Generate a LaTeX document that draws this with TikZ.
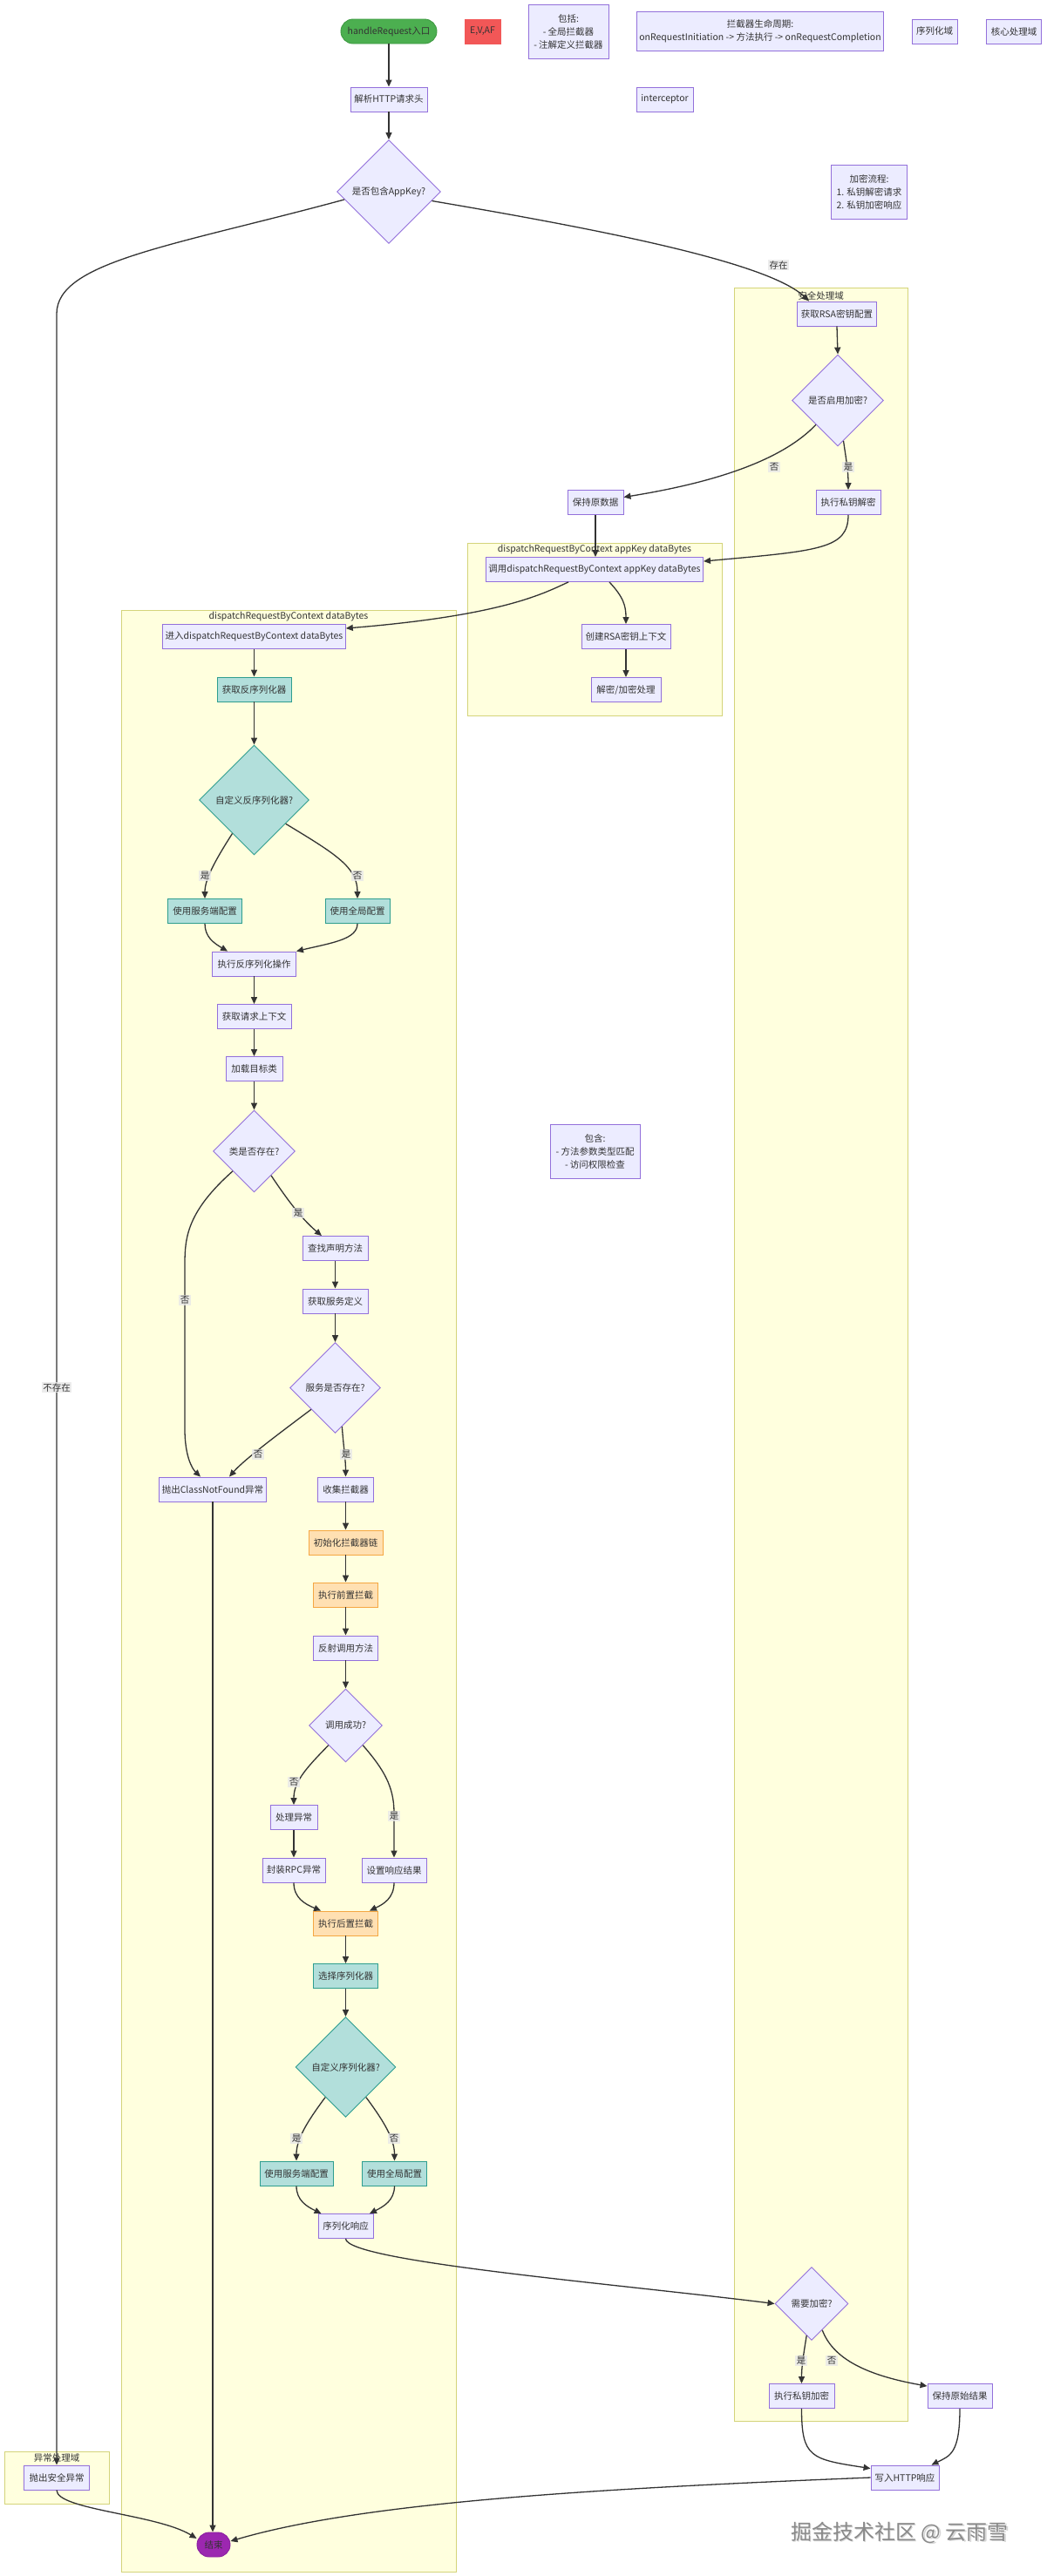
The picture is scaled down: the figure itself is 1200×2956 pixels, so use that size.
\documentclass[tikz,border=0pt]{standalone}
\usepackage{fontspec}
\setmainfont{Noto Sans CJK SC}
\usetikzlibrary{shapes.geometric,arrows.meta,calc}
\definecolor{nfill}{HTML}{ECECFF}
\definecolor{nline}{HTML}{9370DB}
\definecolor{tfill}{HTML}{B2DFDB}
\definecolor{tline}{HTML}{2E9E8F}
\definecolor{ofill}{HTML}{FFE0B2}
\definecolor{oline}{HTML}{F5A742}
\definecolor{gfill}{HTML}{4CAF50}
\definecolor{gline}{HTML}{3E9A42}
\definecolor{rfill}{HTML}{F25757}
\definecolor{pfill}{HTML}{9C27B0}
\definecolor{pline}{HTML}{8A1FA0}
\definecolor{cfill}{HTML}{FFFFDE}
\definecolor{cline}{HTML}{D4D47A}
\definecolor{txt}{HTML}{333333}
\definecolor{edgec}{HTML}{333333}
\definecolor{lblbg}{HTML}{E8E8E8}
\definecolor{wmtxt}{HTML}{8A8A8A}
\definecolor{wmsh}{HTML}{D6D6D6}
\begin{document}
\begin{tikzpicture}[x=1pt,y=-1pt,
  every node/.style={font=\fontsize{10.5}{13}\selectfont, text=txt},
  box/.style={draw=nline, fill=nfill, line width=0.9pt, rectangle, minimum height=28pt, inner xsep=3pt, inner ysep=0pt},
  tbox/.style={box, draw=tline, fill=tfill},
  obox/.style={box, draw=oline, fill=ofill},
  dia/.style={draw=nline, fill=nfill, line width=0.9pt, diamond, aspect=1, inner sep=0pt, minimum width=#1, minimum height=#1},
  tdia/.style={dia=#1, draw=tline, fill=tfill},
  note/.style={box, align=center, font=\fontsize{10.5}{15}\selectfont},
  clus/.style={draw=cline, fill=cfill, line width=0.9pt, rectangle, inner sep=0pt},
  arr/.style={draw=edgec, line width=1.3pt, -{Triangle[length=8pt,width=7pt]}},
  lbl/.style={fill=lblbg, fill opacity=0.8, text opacity=1, inner sep=1.5pt},
  wmfont/.style={font=\fontsize{24}{28}\selectfont},
]
\useasboundingbox (0,0) rectangle (1200,2956);
\fill[white] (0,0) rectangle (1200,2956);

% clusters
\node[clus, minimum width=199pt, minimum height=2448pt] (secdom) at (941.5,1554) {};
\node (secdomt) at (941.5,339) {安全处理域};
\node[clus, minimum width=292pt, minimum height=198pt] (akdom) at (682,722) {};
\node (akdomt) at (682,631) {dispatchRequestByContext appKey dataBytes};
\node[clus, minimum width=384pt, minimum height=2251pt] (maindom) at (331,1825.5) {};
\node (maindomt) at (331,708) {dispatchRequestByContext dataBytes};
\node[clus, minimum width=120pt, minimum height=60pt] (excdom) at (65,2843) {};
\node (excdomt) at (65,2820) {异常处理域};

% top row
\node[box, rounded corners=14pt, draw=gline, fill=gfill, minimum width=110pt] (start) at (446,36) {handleRequest入口};
\node[box, draw=rfill, fill=rfill, minimum width=41pt] (ev) at (553.5,36) {E,V,AF};
\node[note, minimum width=92pt, minimum height=62pt] (incl) at (652,36) {包括:\\- 全局拦截器\\- 注解定义拦截器};
\node[note, minimum width=281pt, minimum height=45pt] (life) at (872,36) {拦截器生命周期:\\onRequestInitiation -> 方法执行 -> onRequestCompletion};
\node[box, minimum width=52pt] (serdom) at (1072,36) {序列化域};
\node[box, minimum width=63pt] (coredom) at (1163,36) {核心处理域};
\node[box, minimum width=88pt] (parse) at (446,114) {解析HTTP请求头};
\node[box, minimum width=65pt] (icpt) at (762.5,114) {interceptor};
\node[dia=119pt] (appkey) at (446,220) {是否包含AppKey?};
\node[note, minimum width=87pt, minimum height=62pt] (encnote) at (997,220) {加密流程:\\1. 私钥解密请求\\2. 私钥加密响应};

% security domain
\node[box, minimum width=91pt] (rsacfg) at (960,360) {获取RSA密钥配置};
\node[dia=105pt] (encq) at (961,459.5) {是否启用加密?};
\node[box, minimum width=64pt] (keep) at (683,576.5) {保持原数据};
\node[box, minimum width=74pt] (dec) at (973,576.5) {执行私钥解密};

% appKey domain
\node[box, minimum width=246pt] (call) at (682,653.5) {调用dispatchRequestByContext appKey dataBytes};
\node[box, minimum width=102pt] (rsactx) at (718,730.5) {创建RSA密钥上下文};
\node[box, minimum width=80pt] (proc) at (718,791.5) {解密/加密处理};

% main domain
\node[box, minimum width=209pt] (enter) at (291.5,730.5) {进入dispatchRequestByContext dataBytes};
\node[tbox, minimum width=85pt] (getdes) at (291.5,791) {获取反序列化器};
\node[tdia=126pt] (desq) at (291.5,918) {自定义反序列化器?};
\node[tbox, minimum width=85pt] (srva) at (235,1045.5) {使用服务端配置};
\node[tbox, minimum width=74pt] (glba) at (410,1045.5) {使用全局配置};
\node[box, minimum width=96pt] (deser) at (291.5,1106) {执行反序列化操作};
\node[box, minimum width=85pt] (ctx) at (291.5,1166.5) {获取请求上下文};
\node[box, minimum width=65pt] (load) at (291.5,1226.5) {加载目标类};
\node[dia=94pt] (clsq) at (291.5,1321) {类是否存在?};
\node[box, minimum width=75pt] (find) at (384.5,1432.5) {查找声明方法};
\node[box, minimum width=75pt] (svcdef) at (384.5,1493) {获取服务定义};
\node[dia=104pt] (svcq) at (384.5,1592.5) {服务是否存在?};
\node[box, minimum width=122pt] (cnf) at (244,1709) {抛出ClassNotFound异常};
\node[box, minimum width=64pt] (collect) at (396.5,1709) {收集拦截器};
\node[obox, minimum width=85pt] (initc) at (396.5,1770) {初始化拦截器链};
\node[obox, minimum width=74pt] (pre) at (396.5,1830) {执行前置拦截};
\node[box, minimum width=74pt] (refl) at (396.5,1891) {反射调用方法};
\node[dia=84pt] (okq) at (396.5,1980) {调用成功?};
\node[box, minimum width=54pt] (hexc) at (337,2085.5) {处理异常};
\node[box, minimum width=72pt] (wrap) at (337,2146) {封装RPC异常};
\node[box, minimum width=74pt] (setr) at (452,2146) {设置响应结果};
\node[obox, minimum width=74pt] (post) at (396.5,2207) {执行后置拦截};
\node[tbox, minimum width=74pt] (selser) at (396.5,2267.5) {选择序列化器};
\node[tdia=115pt] (serq) at (396.5,2372) {自定义序列化器?};
\node[tbox, minimum width=84pt] (srvb) at (340,2494) {使用服务端配置};
\node[tbox, minimum width=74pt] (glbb) at (452.5,2494) {使用全局配置};
\node[box, minimum width=63pt] (serresp) at (396.5,2554.5) {序列化响应};
\node[box, rounded corners=14pt, draw=pline, fill=pfill, minimum width=38pt] (endn) at (245,2920) {结束};

% note in the middle
\node[note, minimum width=103pt, minimum height=62pt] (incl2) at (682.5,1321) {包含:\\- 方法参数类型匹配\\- 访问权限检查};

% response encryption
\node[dia=84pt] (encq2) at (931,2643.5) {需要加密?};
\node[box, minimum width=75pt] (encr) at (919.5,2749.5) {执行私钥加密};
\node[box, minimum width=74pt] (keepr) at (1101,2749.5) {保持原始结果};
\node[box, minimum width=78pt] (write) at (1038,2843) {写入HTTP响应};

% exception domain
\node[box, minimum width=75pt] (secexc) at (65,2843) {抛出安全异常};

% edges
\draw[arr] (start.south) -- (parse.north);
\draw[arr] (parse.south) -- (appkey.north);
\draw[arr] (appkey.-12) .. controls (680,262) and (880,300) .. ([xshift=14pt]rsacfg.north west);
\draw[arr] (appkey.190) .. controls (200,282) and (secexc.north |- 0,300) .. (secexc.north |- 0,360) -- (secexc.north);
\draw[arr] (rsacfg.south) -- (encq.north);
\draw[arr] (encq.-82) .. controls (971,530) and (973,540) .. (dec.north);
\draw[arr] (encq.-132) .. controls (900,525) and (830,552) .. ([yshift=6pt]keep.east);
\draw[arr] (keep.south) -- (keep.south |- call.north);
\draw[arr] (dec.south) .. controls (973,630) and (940,632) .. ([yshift=-5pt]call.north east);
\draw[arr] ([xshift=17pt]call.south) .. controls (715,685) and (718,695) .. (rsactx.north);
\draw[arr] (rsactx.south) -- (proc.north);
\draw[arr] ([xshift=-30pt]call.south) .. controls (625,680) and (580,706) .. ([yshift=9.5pt]enter.east);
\draw[arr] (enter.south) -- (getdes.north);
\draw[arr] (getdes.south) -- (desq.north);
\draw[arr] (desq.-123) .. controls (245,990) and (235,1010) .. (srva.north);
\draw[arr] (desq.-37) .. controls (385,980) and (410,995) .. (glba.north);
\draw[arr] (srva.south) .. controls (235,1075) and (245,1082) .. ([xshift=18pt]deser.north west);
\draw[arr] (glba.south) .. controls (410,1078) and (380,1082) .. (deser.north east);
\draw[arr] (deser.south) -- (ctx.north);
\draw[arr] (ctx.south) -- (load.north);
\draw[arr] (load.south) -- (clsq.north);
\draw[arr] (clsq.-55) .. controls (335,1385) and (350,1402) .. ([xshift=-15.5pt]find.north);
\draw[arr] (clsq.-137) .. controls (215,1390) and (212,1420) .. (212,1450) -- (212,1640) .. controls (212,1670) and (220,1685) .. ([xshift=-14pt]cnf.north);
\draw[arr] (find.south) -- (svcdef.north);
\draw[arr] (svcdef.south) -- (svcq.north);
\draw[arr] (svcq.-138) .. controls (320,1645) and (280,1675) .. ([xshift=19pt]cnf.north);
\draw[arr] (svcq.-80) .. controls (394,1660) and (396.5,1675) .. (collect.north);
\draw[arr] (collect.south) -- (initc.north);
\draw[arr] (initc.south) -- (pre.north);
\draw[arr] (pre.south) -- (refl.north);
\draw[arr] (refl.south) -- (okq.north);
\draw[arr] (okq.-131) .. controls (350,2030) and (337,2045) .. (hexc.north);
\draw[arr] (okq.-49) .. controls (440,2030) and (452,2050) .. (setr.north |- 0,2080) -- (setr.north);
\draw[arr] (hexc.south) -- (wrap.north);
\draw[arr] (wrap.south) .. controls (337,2178) and (350,2185) .. ([xshift=9pt]post.north west);
\draw[arr] (setr.south) .. controls (452,2178) and (440,2185) .. ([xshift=-10pt]post.north east);
\draw[arr] (post.south) -- (selser.north);
\draw[arr] (selser.south) -- (serq.north);
\draw[arr] (serq.-124) .. controls (352,2435) and (340,2455) .. (srvb.north);
\draw[arr] (serq.-56) .. controls (441,2435) and (452.5,2455) .. (glbb.north);
\draw[arr] (srvb.south) .. controls (340,2525) and (352,2532) .. ([xshift=4pt]serresp.north west);
\draw[arr] (glbb.south) .. controls (452.5,2525) and (440,2532) .. ([xshift=-4.5pt]serresp.north east);
\draw[arr] (serresp.south) .. controls (398,2595) and (700,2620) .. (encq2.west);
\draw[arr] (encq2.-99) .. controls (922,2700) and (919.5,2715) .. (encr.north);
\draw[arr] (encq2.-68) .. controls (955,2705) and (990,2725) .. ([yshift=-3pt]keepr.north west);
\draw[arr] (encr.south) .. controls (919.5,2820) and (930,2822) .. ([yshift=-4pt]write.north west);
\draw[arr] (keepr.south) .. controls (1101,2815) and (1090,2818) .. ([xshift=-9pt]write.north east);
\draw[arr] (write.west) .. controls (700,2855) and (420,2870) .. ([yshift=4pt]endn.east);
\draw[arr] (cnf.south) -- (cnf.south |- endn.north);
\draw[arr] (secexc.south) .. controls (65,2880) and (180,2885) .. (endn.160);

% edge labels
\node[lbl] (l1) at (893,304) {存在};
\node[lbl] (l2) at (65,1592) {不存在};
\node[lbl] (l3) at (888,536) {否};
\node[lbl] (l4) at (973,536) {是};
\node[lbl] (l5) at (235,1005) {是};
\node[lbl] (l6) at (410,1005) {否};
\node[lbl] (l7) at (342,1392) {是};
\node[lbl] (l8) at (212,1492) {否};
\node[lbl] (l9) at (296,1669) {否};
\node[lbl] (l10) at (397,1669) {是};
\node[lbl] (l11) at (337,2045) {否};
\node[lbl] (l12) at (452,2084) {是};
\node[lbl] (l13) at (340,2454) {是};
\node[lbl] (l14) at (452,2454) {否};
\node[lbl] (l15) at (919,2709) {是};
\node[lbl] (l16) at (954,2709) {否};

% watermark
\node[wmfont, text=wmsh] (wmshadow) at (1033.5,2907.5) {掘金技术社区 @ 云雨雪};
\node[wmfont, text=wmtxt] (wm) at (1032,2906) {掘金技术社区 @ 云雨雪};
\end{tikzpicture}
\end{document}
